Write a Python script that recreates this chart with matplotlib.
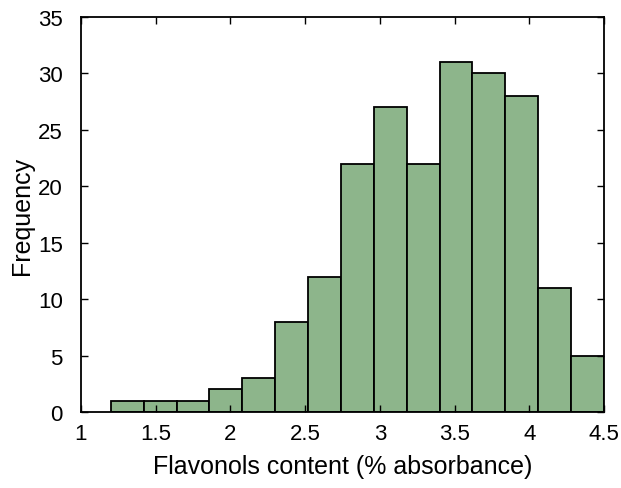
import matplotlib
matplotlib.use("Agg")
import matplotlib.pyplot as plt
import numpy as np

plt.rcParams['font.family'] = ['Liberation Sans', 'DejaVu Sans']

bin_start = 1.2
bin_width = 0.22
counts = [1, 1, 1, 2, 3, 8, 12, 22, 27, 22, 31, 30, 28, 11, 5]
xticks = [1, 1.5, 2, 2.5, 3, 3.5, 4, 4.5]
xtick_labels = ['1', '1.5', '2', '2.5', '3', '3.5', '4', '4.5']
yticks = [0, 5, 10, 15, 20, 25, 30, 35]

edges = bin_start + bin_width * np.arange(len(counts) + 1)

fig = plt.figure(figsize=(6.21, 4.89), dpi=100)
ax = fig.add_axes([0.1304, 0.1554, 0.8422, 0.8078])
ax.bar(edges[:-1], counts, width=bin_width, align='edge', color='#8db58b',
       edgecolor='black', linewidth=1.3)
ax.set_xlim(1, 4.5)
ax.set_ylim(0, 35)
ax.set_xticks(xticks)
ax.set_xticklabels(xtick_labels)
ax.set_yticks(yticks)
ax.tick_params(direction='in', top=True, right=True, length=5, width=1,
               labelsize=16)
ax.tick_params(axis='x', pad=8)
ax.tick_params(axis='y', pad=13)
for s in ax.spines.values():
    s.set_linewidth(1.3)
ax.set_xlabel('Flavonols content (% absorbance)', fontsize=18, labelpad=7)
ax.set_ylabel('Frequency', fontsize=18, labelpad=3)
fig.savefig('out.png', dpi=100)
